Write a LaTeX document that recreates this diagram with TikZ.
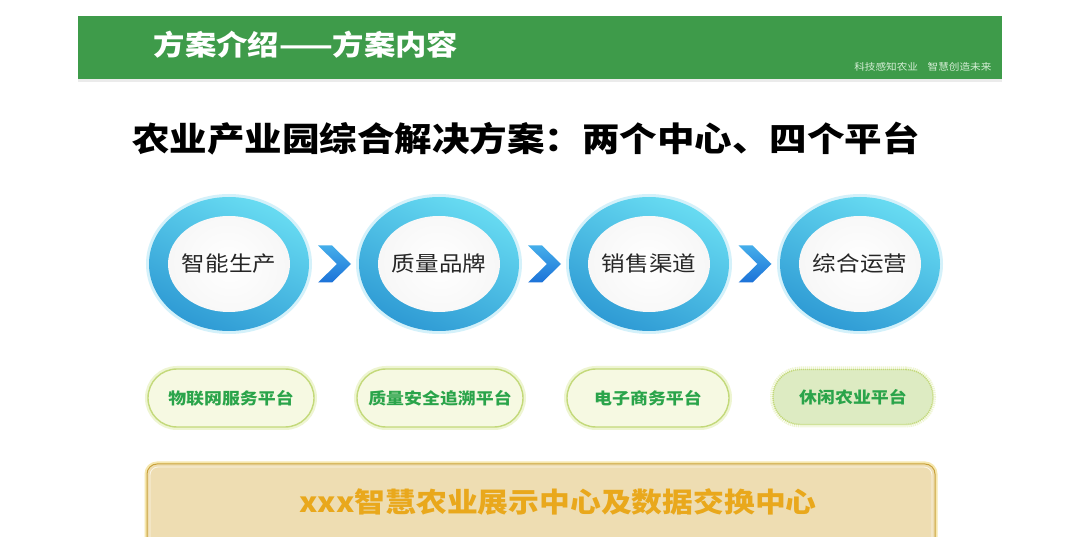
\documentclass[tikz,border=0pt]{standalone}
\usepackage{fontspec}
\setmainfont{Noto Sans CJK SC}[FakeStretch=1.12]
\usetikzlibrary{shapes.geometric,calc}
\definecolor{hdrgreen}{HTML}{3E9B4A}
\definecolor{hdrsmall}{HTML}{D6EED6}
\definecolor{ringlight}{HTML}{68DCF2}
\definecolor{ringdark}{HTML}{2E9AD4}
\definecolor{glowc}{HTML}{D4F1FA}
\definecolor{chevlight}{HTML}{45AEEA}
\definecolor{chevdark}{HTML}{1C72D8}
\definecolor{pillfill}{HTML}{F6F9E2}
\definecolor{pillfill4}{HTML}{DDEBC2}
\definecolor{pilledge}{HTML}{C3D97A}
\definecolor{pillglow}{HTML}{EEF5D2}
\definecolor{pilltext}{HTML}{2AA44A}
\definecolor{boxfill}{HTML}{EEDDB2}
\definecolor{boxedge}{HTML}{C9A23C}
\definecolor{boxglow}{HTML}{F6E7AE}
\definecolor{boxtext}{HTML}{E9A81C}
\tikzset{
  ringnode/.style={ellipse, minimum width=160pt, minimum height=134pt, inner sep=0pt,
    top color=ringlight, bottom color=ringdark, shading angle=-25,
    preaction={draw=glowc, line width=6pt},
    path picture={\shade[inner color=white, outer color=white!92!gray]
      (path picture bounding box.center) ellipse [x radius=61pt, y radius=48pt];},
    font=\fontsize{21}{24}\selectfont, text=black!85},
  chevshape/.style={top color=chevlight, bottom color=chevdark},
  pill/.style={rectangle, rounded corners=29pt, minimum width=166pt, minimum height=58pt,
    fill=pillfill, draw=pilledge, line width=1.4pt,
    preaction={draw=pillglow, line width=6pt},
    font=\bfseries\fontsize{16}{19}\selectfont, text=pilltext},
  pillalt/.style={pill, fill=pillfill4, minimum width=160pt, minimum height=55pt,
    rounded corners=27pt, dash pattern=on 1.2pt off 0.8pt},
  titletext/.style={font=\bfseries\fontsize{33.5}{38}\selectfont, text=black},
  hdrtext/.style={font=\bfseries\fontsize{28}{32}\selectfont, text=white},
  smalltext/.style={font=\fontsize{9.5}{11}\selectfont, text=hdrsmall},
  boxtextstyle/.style={font=\bfseries\fontsize{27.5}{31}\selectfont, text=boxtext}
}
\begin{document}
\begin{tikzpicture}[x=1pt,y=-1pt]
\useasboundingbox (0,0) rectangle (1080,537);
\clip (0,0) rectangle (1080,537);
\fill[white] (0,0) rectangle (1080,537);
% header
\fill[black!8] (78,79) rectangle (1002,82);
\fill[hdrgreen] (78,16) rectangle (1002,79);
\node[hdrtext] (hdr) at (306,45) {方案介绍——方案内容};
\node[smalltext, anchor=east] (slogan) at (995,67) {科技感知农业\quad 智慧创造未来};
% title
\node[titletext] (title) at (526,139) {农业产业园综合解决方案：两个中心、四个平台};
% rings
\node[ringnode] (c1) at (229,264) {智能生产};
\node[ringnode] (c2) at (439,264) {质量品牌};
\node[ringnode] (c3) at (649,264) {销售渠道};
\node[ringnode] (c4) at (860,264) {综合运营};
% chevrons
\foreach \a/\b in {c1/c2,c2/c3,c3/c4}{
  \path[chevshape] ($(\a.east)!0.5!(\b.west)$) ++(-16,-18.5) -- ++(14,0) -- ++(19,18.5)
    -- ++(-19,18.5) -- ++(-14,0) -- ++(19,-18.5) -- cycle;
}
% pills
\node[pill] (p1) at (231,398) {物联网服务平台};
\node[pill] (p2) at (440,398) {质量安全追溯平台};
\node[pill, minimum width=162pt] (p3) at (648,398) {电子商务平台};
\node[pillalt] (p4) at (853,397) {休闲农业平台};
% bottom box
\draw[boxglow, line width=5pt, rounded corners=10pt] (147,464) rectangle (935,575);
\draw[boxedge, fill=boxfill, line width=1pt, rounded corners=10pt] (147,464) rectangle (935,575);
\draw[white!70!boxfill, line width=0.8pt, rounded corners=8pt] (150,467) rectangle (932,575);
\node[boxtextstyle] (center) at (558,502) {xxx智慧农业展示中心及数据交换中心};
\end{tikzpicture}
\end{document}
